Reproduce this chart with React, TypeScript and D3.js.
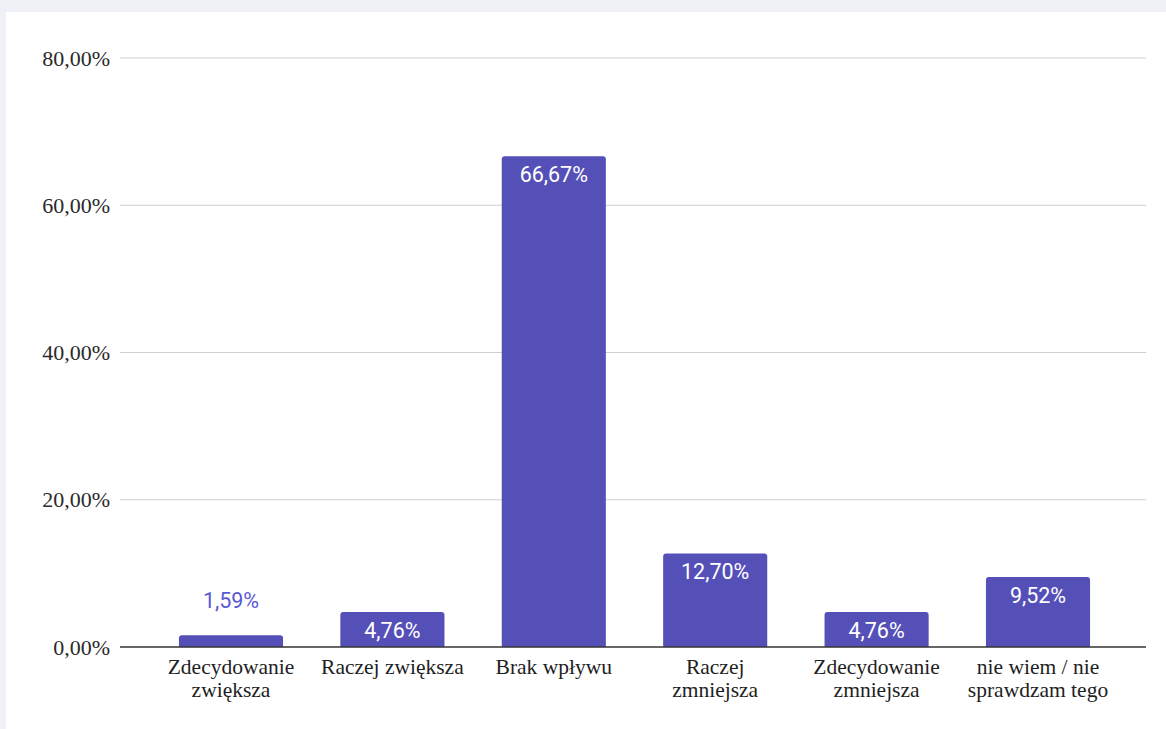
import React from "react";
import * as d3 from "d3";

const categoryLines: string[][] = [
  ["Zdecydowanie", "zwiększa"],
  ["Raczej zwiększa"],
  ["Brak wpływu"],
  ["Raczej", "zmniejsza"],
  ["Zdecydowanie", "zmniejsza"],
  ["nie wiem / nie", "sprawdzam tego"],
];
const categories: string[] = categoryLines.map((l) => l.join(" "));
const values: number[] = [1.59, 4.76, 66.67, 12.7, 4.76, 9.52];
const yTicks: number[] = [0, 20, 40, 60, 80];

const W = 1166;
const H = 729;

const fmt = (v: number) => v.toFixed(2).replace(".", ",") + "%";

export default function App() {
  const y = d3.scaleLinear().domain([0, 80]).range([647, 58]);
  const x = d3
    .scaleBand<string>()
    .domain(categories)
    .range([150.3, 1118.7])
    .paddingInner(0.355)
    .paddingOuter(0.1775);
  const bw = x.bandwidth();
  const r = 3;
  const serif = "'Liberation Serif', 'Times New Roman', serif";
  const sans = "Roboto, 'Noto Sans', sans-serif";

  const barPath = (x0: number, y0: number, w: number, h: number) => {
    const rr = Math.min(r, h);
    return `M${x0},${y0 + h}V${y0 + rr}Q${x0},${y0} ${x0 + rr},${y0}H${x0 + w - rr}Q${x0 + w},${y0} ${x0 + w},${y0 + rr}V${y0 + h}Z`;
  };

  return (
    <svg
      width={W}
      height={H}
      style={{ position: "absolute", left: 0, top: 0, display: "block" }}
    >
      <rect x={0} y={0} width={W} height={H} fill="#eff1f6" />
      <rect x={6} y={12} width={W - 6} height={H - 12} fill="#ffffff" />
      {yTicks.map((t) => (
        <g key={t}>
          {t !== 0 && (
            <line x1={120} x2={1146} y1={y(t)} y2={y(t)} stroke="#cfcfcf" strokeWidth={1.2} />
          )}
          <text
            x={110}
            y={y(t)}
            dy="0.35em"
            textAnchor="end"
            fontFamily={serif}
            fontSize={22}
            fill="#2a2a2a"
          >
            {fmt(t)}
          </text>
        </g>
      ))}
      {categories.map((c, i) => {
        const v = values[i];
        const x0 = x(c)!;
        const y0 = y(v);
        const h = y(0) - y0;
        const inside = h > 30;
        return (
          <g key={c}>
            <path d={barPath(x0, y0, bw, h)} fill="#5450b8" />
            <text
              x={x0 + bw / 2}
              y={inside ? y0 + 26 : y0 - 27}
              textAnchor="middle"
              fontFamily={sans}
              fontSize={21.5}
              fill={inside ? "#ffffff" : "#5a58d4"}
            >
              {fmt(v)}
            </text>
          </g>
        );
      })}
      <line x1={120} x2={1146} y1={y(0)} y2={y(0)} stroke="#333" strokeWidth={1.5} />
      {categories.map((c, i) => (
        <text
          key={c}
          x={x(c)! + bw / 2}
          textAnchor="middle"
          fontFamily={serif}
          fontSize={21.5}
          fill="#1e1e1e"
        >
          {categoryLines[i].map((line, j) => (
            <tspan key={j} x={x(c)! + bw / 2} y={674 + j * 23}>
              {line}
            </tspan>
          ))}
        </text>
      ))}
    </svg>
  );
}
